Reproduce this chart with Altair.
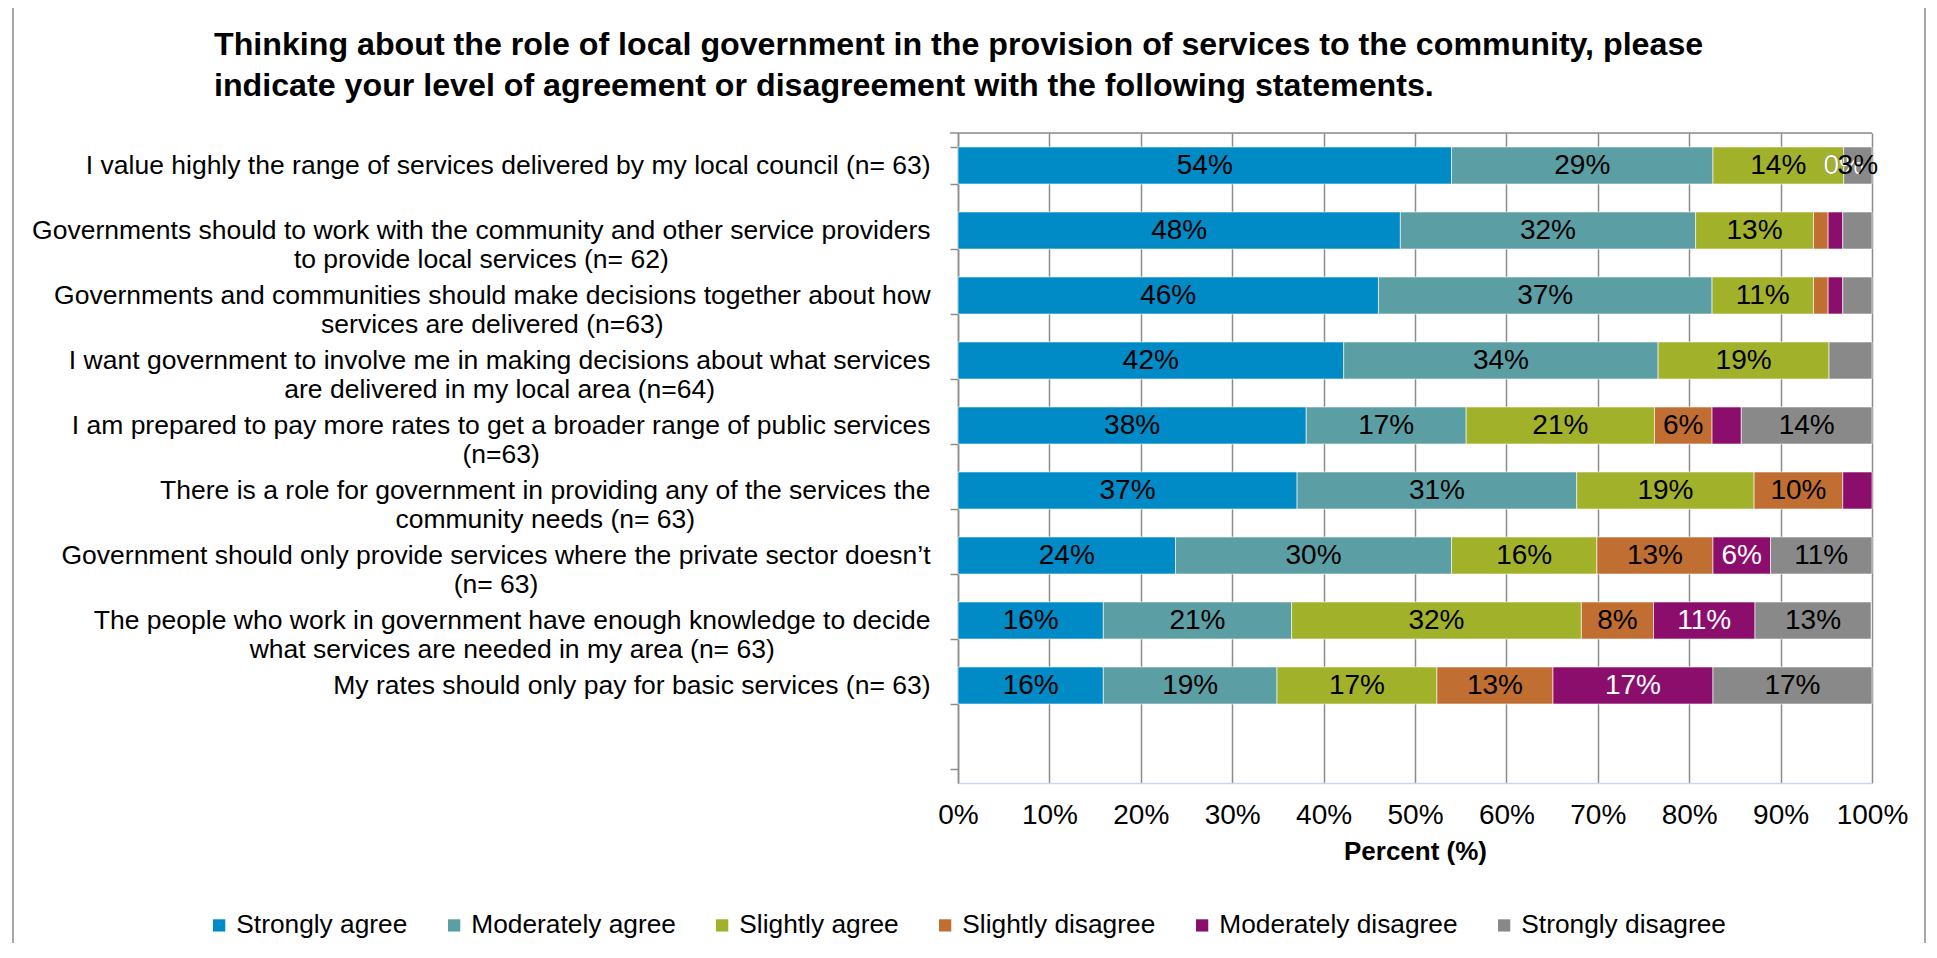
import json
import altair as alt
import pandas as pd

FONT = "Liberation Sans, Arial, Helvetica, sans-serif"
GRID = "#8C8C8C"

title_lines = [
    "Thinking about the role of local government in the provision of services to the community, please",
    "indicate your level of agreement or disagreement with the following statements.",
]

statements = [
    ["I value highly the range of services delivered by my local council (n= 63)"],
    ["Governments should to work with the community and other service providers",
     "to provide local services (n= 62)"],
    ["Governments and communities should make decisions together about how",
     "services are delivered (n=63)"],
    ["I want government to involve me in making decisions about what services",
     "are delivered in my local area (n=64)"],
    ["I am prepared to pay more rates to get a broader range of public services",
     "(n=63)"],
    ["There is a role for government in providing any of the services the",
     "community needs (n= 63)"],
    ["Government should only provide services where the private sector doesn\u2019t",
     "(n= 63)"],
    ["The people who work in government have enough knowledge to decide",
     "what services are needed in my area (n= 63)"],
    ["My rates should only pay for basic services (n= 63)"],
]

responses = ["Strongly agree", "Moderately agree", "Slightly agree",
             "Slightly disagree", "Moderately disagree", "Strongly disagree"]
colors = ["#008AC6", "#5B9EA4", "#A2B12A", "#C06E32", "#8C0E6C", "#898989"]
text_colors = ["black", "black", "black", "black", "white", "black"]

strongly_agree = [54.0, 48.4, 46.0, 42.2, 38.1, 37.1, 23.8, 15.9, 15.9]
moderately_agree = [28.6, 32.3, 36.5, 34.4, 17.5, 30.6, 30.2, 20.6, 19.0]
slightly_agree = [14.3, 12.9, 11.1, 18.7, 20.6, 19.4, 15.9, 31.7, 17.5]
slightly_disagree = [0.0, 1.6, 1.6, 0.0, 6.3, 9.7, 12.7, 7.9, 12.7]
moderately_disagree = [0.0, 1.6, 1.6, 0.0, 3.2, 3.2, 6.3, 11.1, 17.5]
strongly_disagree = [3.1, 3.2, 3.2, 4.7, 14.3, 0.0, 11.1, 12.7, 17.4]

sa_labels = ["54%", "48%", "46%", "42%", "38%", "37%", "24%", "16%", "16%"]
ma_labels = ["29%", "32%", "37%", "34%", "17%", "31%", "30%", "21%", "19%"]
sl_labels = ["14%", "13%", "11%", "19%", "21%", "19%", "16%", "32%", "17%"]
sd_labels = ["0%", "", "", "", "6%", "10%", "13%", "8%", "13%"]
md_labels = ["0%", "", "", "", "", "", "6%", "11%", "17%"]
st_labels = ["3%", "", "", "", "14%", "", "11%", "13%", "17%"]

x_ticks = [0, 10, 20, 30, 40, 50, 60, 70, 80, 90, 100]

series = [strongly_agree, moderately_agree, slightly_agree,
          slightly_disagree, moderately_disagree, strongly_disagree]
label_series = [sa_labels, ma_labels, sl_labels, sd_labels, md_labels, st_labels]

keys = ["|".join(s) for s in statements]

rows = []
for i, key in enumerate(keys):
    cum = 0.0
    for j, resp in enumerate(responses):
        v = series[j][i]
        rows.append({
            "key": key, "response": resp, "value": v,
            "start": cum, "end": cum + v, "mid": cum + v / 2,
            "label": label_series[j][i], "tcolor": text_colors[j],
        })
        cum += v
df = pd.DataFrame(rows)

# Arial / Liberation Sans advance widths (per 1000 em) for label centring
W = {' ': 278, '(': 333, ')': 333, '=': 584, '%': 889, '\u2019': 222, ',': 278, '.': 278,
     'A': 667, 'B': 667, 'C': 722, 'D': 722, 'E': 667, 'F': 611, 'G': 778, 'H': 722, 'I': 278,
     'J': 500, 'K': 667, 'L': 556, 'M': 833, 'N': 722, 'O': 778, 'P': 667, 'Q': 778, 'R': 722,
     'S': 667, 'T': 611, 'U': 722, 'V': 667, 'W': 944, 'X': 667, 'Y': 667, 'Z': 611,
     'a': 556, 'b': 556, 'c': 500, 'd': 556, 'e': 556, 'f': 278, 'g': 556, 'h': 556, 'i': 222,
     'j': 222, 'k': 500, 'l': 222, 'm': 833, 'n': 556, 'o': 556, 'p': 556, 'q': 556, 'r': 333,
     's': 500, 't': 278, 'u': 556, 'v': 500, 'w': 722, 'x': 500, 'y': 500, 'z': 500}


def textw(s, size):
    return sum(W.get(c, 556) for c in s) * size / 1000.0


LABEL_SIZE = 26.5
pad_cond = []
for s, key in zip(statements, keys):
    w = max(textw(line, LABEL_SIZE) for line in s)
    pad_cond.append({"test": "datum.value === " + json.dumps(key), "value": round(20 + w / 2, 1)})
label_padding = {"condition": pad_cond, "value": 20}

y_scale = alt.Scale(domain=keys + [" "], paddingInner=0.43, paddingOuter=0.215)
x_scale = alt.Scale(domain=[0, 100])

bars = alt.Chart(df).transform_filter("datum.value > 0").mark_bar(
    stroke="white", strokeWidth=0.6
).encode(
    y=alt.Y("key:N", scale=y_scale, sort=None, axis=alt.Axis(
        title=None, labelExpr="split(datum.label, '|')", labelAlign="center",
        labelBaseline="middle", labelFontSize=LABEL_SIZE, labelFont=FONT, labelColor="black",
        labelLimit=2000, labelLineHeight=29, labelPadding=label_padding,
        tickBand="extent", tickSize=8, tickColor=GRID, tickWidth=1.5,
        domainColor=GRID, domainWidth=1.5, grid=False, labelOverlap=False)),
    x=alt.X("start:Q", scale=x_scale, axis=alt.Axis(
        values=x_ticks, labelExpr="datum.value + '%'", title="Percent (%)",
        titleFontSize=26, titleFont=FONT, titleFontWeight="bold", titleColor="black",
        titlePadding=9, labelFontSize=28, labelFont=FONT, labelColor="black",
        labelPadding=18, labelOverlap=False, labelFlush=False, labelBound=False,
        ticks=False, grid=True, gridColor=GRID, gridWidth=1.5,
        domainColor="#C6D9F0", domainWidth=1.5)),
    x2="end:Q",
    color=alt.Color("response:N", scale=alt.Scale(domain=responses, range=colors),
                    legend=alt.Legend(
                        orient="none", legendX=-752, legendY=779, direction="horizontal",
                        title=None, symbolType="square", symbolSize=150, symbolStrokeWidth=0,
                        labelFontSize=26.3, labelFont=FONT, labelColor="black",
                        columnPadding=33, labelOffset=4, labelLimit=600)),
)

texts = alt.Chart(df).transform_filter("datum.label != ''").mark_text(
    fontSize=28, font=FONT, baseline="middle", align="center"
).encode(
    y=alt.Y("key:N", sort=None),
    x=alt.X("mid:Q"),
    text="label:N",
    color=alt.Color("tcolor:N", scale=None),
)

one = pd.DataFrame({"k": [0]})
top_rule = alt.Chart(one).mark_rule(color=GRID, strokeWidth=1.5).encode(
    x=alt.value(-8), x2=alt.value(914), y=alt.value(0))
frame = alt.Chart(one).mark_rect(fill=None, stroke="#8A8A8A", strokeWidth=1.5).encode(
    x=alt.value(-945), x2=alt.value(967), y=alt.value(-128), y2=alt.value(900))

chart = alt.layer(frame, bars, texts, top_rule).properties(
    width=914, height=650,
    autosize=alt.AutoSizeParams(type="none"),
    padding={"left": 950, "top": 125, "right": 55, "bottom": 160},
    title=alt.TitleParams(text=title_lines, anchor="start", frame="group", fontSize=32.2,
                          fontWeight="bold", font=FONT, color="black", lineHeight=41,
                          dx=-744, dy=99, offset=0),
).configure_view(stroke="#C6D9F0", strokeWidth=1.5).configure(background="white")

chart.save("out.html", embed_options={"renderer": "svg", "actions": False})
